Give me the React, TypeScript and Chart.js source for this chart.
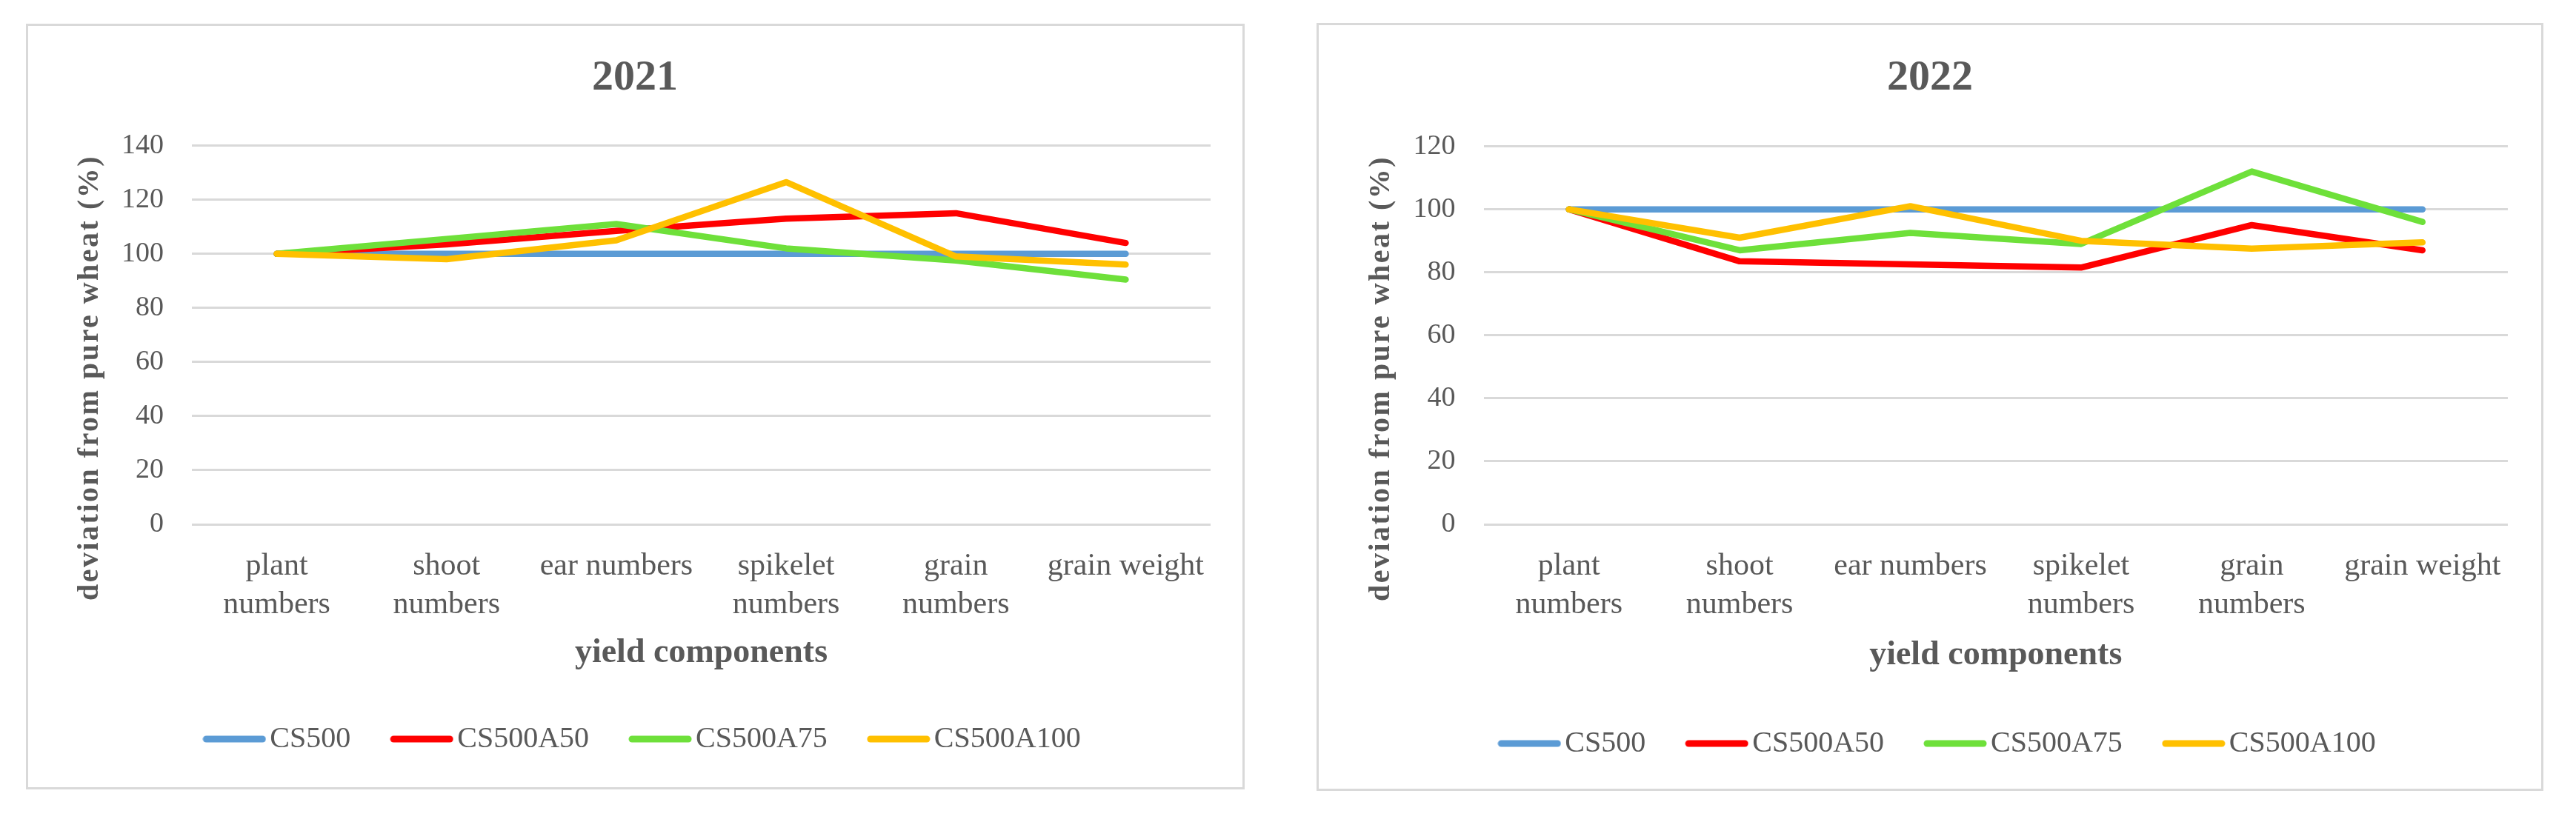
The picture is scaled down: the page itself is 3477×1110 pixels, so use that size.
import React, { useEffect, useRef } from "react";
import { Chart, registerables } from "chart.js";

Chart.register(...registerables);

// ---------- data ----------
const categories: (string | string[])[] = [
  ["plant", "numbers"],
  ["shoot", "numbers"],
  "ear numbers",
  ["spikelet", "numbers"],
  ["grain", "numbers"],
  "grain weight",
];
const seriesNames = ["CS500", "CS500A50", "CS500A75", "CS500A100"];
const seriesColors = ["#5B9BD5", "#FF0000", "#6EE03A", "#FFC000"];

const cs500_2021 = [100, 100, 100, 100, 100, 100];
const cs500a50_2021 = [100, 103.5, 108.5, 113, 115, 104];
const cs500a75_2021 = [100, 105.5, 111, 102, 97.5, 90.5];
const cs500a100_2021 = [100, 98, 105, 126.5, 99, 96];

const cs500_2022 = [100, 100, 100, 100, 100, 100];
const cs500a50_2022 = [100, 83.5, 82.5, 81.5, 95, 87];
const cs500a75_2022 = [100, 87, 92.5, 89, 112, 96];
const cs500a100_2022 = [100, 91, 101, 90, 87.5, 89.5];

const yMax2021 = 140;
const yMax2022 = 120;
const yStep = 20;

const yAxisTitle = "deviation from pure wheat (%)";
const xAxisTitle = "yield components";

const TEXT = "#595959";
const SERIF = "'Liberation Serif', 'Times New Roman', serif";

function lineImage(color: string) {
  const c = document.createElement("canvas");
  c.width = 86;
  c.height = 12;
  const g = c.getContext("2d")!;
  g.strokeStyle = color;
  g.lineWidth = 9;
  g.lineCap = "round";
  g.beginPath();
  g.moveTo(5, 6);
  g.lineTo(81, 6);
  g.stroke();
  return c;
}

const yTitlePlugin = {
  id: "yTitle",
  afterDraw(chart: any, _args: any, opts: any) {
    const ctx = chart.ctx;
    ctx.save();
    ctx.translate(opts.x, opts.y);
    ctx.rotate(-Math.PI / 2);
    ctx.font = `bold 40px ${SERIF}`;
    try {
      (ctx as any).letterSpacing = "2.5px";
    } catch (e) {}
    ctx.fillStyle = TEXT;
    ctx.textAlign = "center";
    ctx.textBaseline = "middle";
    ctx.fillText(opts.text, 0, 0);
    ctx.restore();
  },
};

const legendShiftPlugin = {
  id: "legendShift",
  afterLayout(chart: any, _args: any, opts: any) {
    if (chart.legend && opts && opts.dx) {
      chart.legend.left += opts.dx;
      chart.legend.right += opts.dx;
    }
  },
};

type Layout = {
  width: number;
  height: number;
  pad: { left: number; right: number; top: number; bottom: number };
  titlePad: { top: number; bottom: number };
  yWidth: number;
  xHeight: number;
  xTickPad: number;
  xTitlePad: { top: number; bottom: number };
  yTitleX: number;
  yTitleY: number;
  legendDx: number;
};

function LineChart(props: {
  title: string;
  series: number[][];
  yMax: number;
  layout: Layout;
}) {
  const ref = useRef<HTMLCanvasElement | null>(null);
  useEffect(() => {
    if (!ref.current) return;
    const L = props.layout;
    const imgs = seriesColors.map(lineImage);
    const orders = [4, 3, 2, 1];
    const chart = new Chart(ref.current, {
      type: "line",
      data: {
        labels: categories,
        datasets: seriesNames.map((name, i) => ({
          label: name,
          data: props.series[i],
          borderColor: seriesColors[i],
          backgroundColor: seriesColors[i],
          borderWidth: 8.5,
          pointRadius: 0,
          pointHoverRadius: 0,
          tension: 0,
          fill: false,
          borderCapStyle: "round",
          borderJoinStyle: "round",
          order: orders[i],
        })),
      },
      options: {
        animation: false,
        responsive: false,
        devicePixelRatio: 1,
        layout: { padding: L.pad },
        plugins: {
          title: {
            display: true,
            text: props.title,
            color: TEXT,
            font: { family: SERIF, size: 58, weight: "bold", lineHeight: 1.2 },
            padding: L.titlePad,
          },
          legend: {
            display: true,
            position: "bottom",
            labels: {
              color: TEXT,
              font: { family: SERIF, size: 40 },
              usePointStyle: true,
              pointStyleWidth: 56,
              padding: 68,
              generateLabels: (chart: any) => {
                const items = Chart.defaults.plugins.legend.labels.generateLabels(chart);
                items.forEach((it: any) => {
                  it.pointStyle = imgs[it.datasetIndex];
                });
                items.sort((a: any, b: any) => a.datasetIndex - b.datasetIndex);
                return items;
              },
            },
          },
          tooltip: { enabled: false },
          yTitle: { text: yAxisTitle, x: L.yTitleX, y: L.yTitleY },
          legendShift: { dx: L.legendDx },
        } as any,
        scales: {
          x: {
            type: "category",
            offset: true,
            grid: { display: false, drawTicks: false },
            border: { display: false },
            ticks: {
              color: TEXT,
              font: { family: SERIF, size: 42, lineHeight: 52 / 42 },
              padding: L.xTickPad,
              maxRotation: 0,
              minRotation: 0,
              autoSkip: false,
            },
            title: {
              display: true,
              text: xAxisTitle,
              color: TEXT,
              font: { family: SERIF, size: 46, weight: "bold", lineHeight: 1.2 },
              padding: L.xTitlePad,
            },
            afterFit: (scale: any) => {
              scale.height = L.xHeight;
            },
          },
          y: {
            min: 0,
            max: props.yMax,
            grid: { color: "#d9d9d9", lineWidth: 3, drawTicks: false },
            border: { display: false },
            ticks: {
              stepSize: yStep,
              color: TEXT,
              font: { family: SERIF, size: 38 },
              padding: 38,
            },
            afterFit: (scale: any) => {
              scale.width = L.yWidth;
            },
          },
        },
      },
      plugins: [yTitlePlugin, legendShiftPlugin],
    } as any);
    return () => chart.destroy();
  }, []);
  return (
    <canvas
      ref={ref}
      width={props.layout.width}
      height={props.layout.height}
      style={{ display: "block", width: props.layout.width, height: props.layout.height }}
    />
  );
}

const layout2021: Layout = {
  width: 1639,
  height: 1028,
  pad: { left: 42, right: 43, top: 0, bottom: 35 },
  titlePad: { top: 36, bottom: 56 },
  yWidth: 179,
  xHeight: 202,
  xTickPad: 31,
  xTitlePad: { top: 13, bottom: 0 },
  yTitleX: 84,
  yTitleY: 475,
  legendDx: 16.5,
};

const layout2022: Layout = {
  width: 1650,
  height: 1031,
  pad: { left: 45, right: 45, top: 0, bottom: 31 },
  titlePad: { top: 37, bottom: 57 },
  yWidth: 177.5,
  xHeight: 208,
  xTickPad: 31,
  xTitlePad: { top: 16, bottom: 3 },
  yTitleX: 85,
  yTitleY: 477,
  legendDx: 16.5,
};

export default function App() {
  const frame = (left: number, top: number): React.CSSProperties => ({
    position: "absolute",
    left,
    top,
    border: "3px solid #d9d9d9",
    background: "#fff",
  });
  return (
    <div
      style={{
        position: "fixed",
        left: 0,
        top: 0,
        width: 3477,
        height: 1110,
        background: "#fff",
        overflow: "hidden",
      }}
    >
      <div style={frame(35, 32)}>
        <LineChart
          title="2021"
          series={[cs500_2021, cs500a50_2021, cs500a75_2021, cs500a100_2021]}
          yMax={yMax2021}
          layout={layout2021}
        />
      </div>
      <div style={frame(1777, 31)}>
        <LineChart
          title="2022"
          series={[cs500_2022, cs500a50_2022, cs500a75_2022, cs500a100_2022]}
          yMax={yMax2022}
          layout={layout2022}
        />
      </div>
    </div>
  );
}
